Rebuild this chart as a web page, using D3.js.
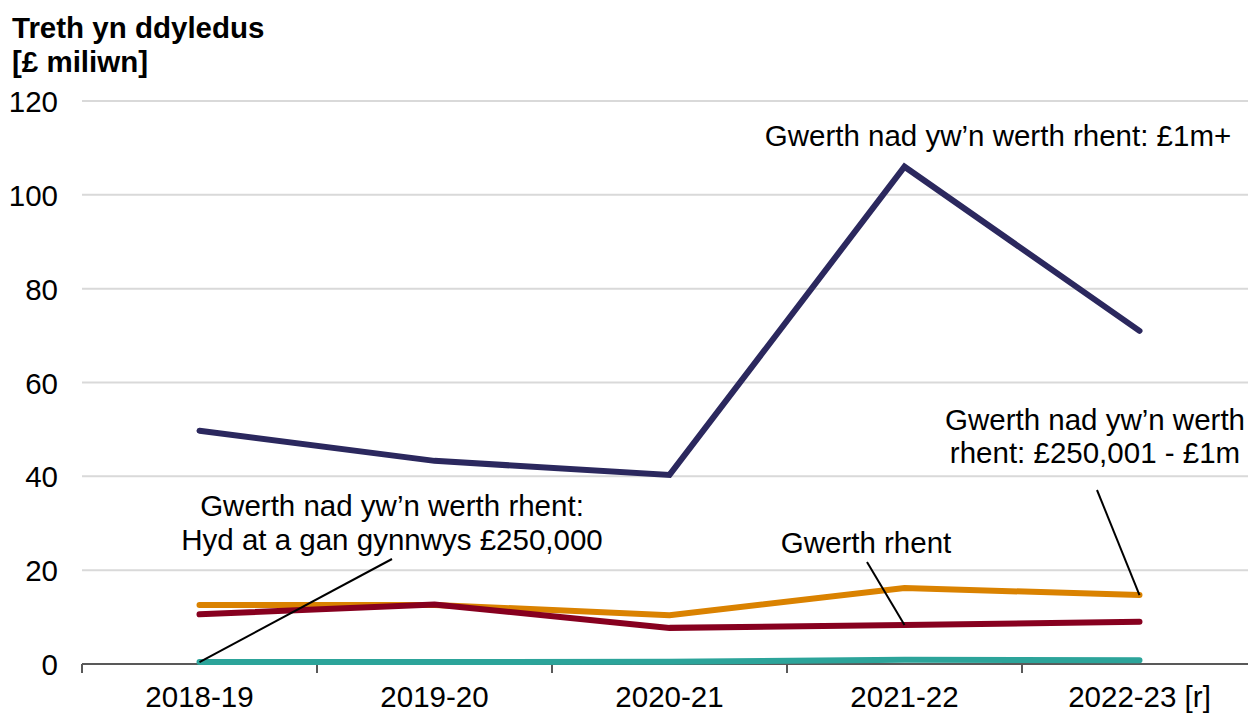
<!DOCTYPE html>
<html><head><meta charset="utf-8">
<script src="https://cdn.jsdelivr.net/npm/d3@7"></script>
<style>body{margin:0;background:#fff}text{font-family:"Liberation Sans",Arial,sans-serif}</style>
</head><body><svg id="c" width="1248" height="716"></svg>
<script>
const categories = ["2018-19","2019-20","2020-21","2021-22","2022-23 [r]"];
const seriesNames = ["Gwerth nad yw’n werth rhent: £1m+","Gwerth nad yw’n werth rhent: £250,001 - £1m","Gwerth rhent","Gwerth nad yw’n werth rhent: Hyd at a gan gynnwys £250,000"];
const valsOver1m = [49.7, 43.3, 40.3, 106.0, 71.0];
const vals250kTo1m = [12.6, 12.6, 10.4, 16.2, 14.7];
const valsRent = [10.6, 12.7, 7.7, 8.3, 9.0];
const valsUpTo250k = [0.4, 0.4, 0.5, 0.9, 0.8];
const yTicks = [0,20,40,60,80,100,120];
const colors = ["#2b285e","#da8200","#87001f","#2ca49a"];

const FS = 29.5;
const svg = d3.select("#c");
const x = d3.scaleBand().domain(categories).range([82,1257]);
const y = d3.scaleLinear().domain([0,120]).range([664,101]);

// gridlines
svg.append("g").selectAll("line").data(yTicks.filter(d=>d>0)).join("line")
  .attr("x1",82).attr("x2",1248).attr("y1",d=>y(d)).attr("y2",d=>y(d))
  .attr("stroke","#d9d9d9").attr("stroke-width",2);
// y labels
svg.append("g").selectAll("text").data(yTicks).join("text")
  .attr("x",58).attr("y",d=>y(d)+11).attr("text-anchor","end")
  .attr("font-size",FS).attr("fill","#000").text(d=>d);
// x axis
const xa = svg.append("g");
xa.append("line").attr("x1",82).attr("x2",1248).attr("y1",664).attr("y2",664).attr("stroke","#595959").attr("stroke-width",2);
xa.selectAll("line.t").data(categories).join("line").attr("class","t")
  .attr("x1",d=>x(d)).attr("x2",d=>x(d)).attr("y1",664).attr("y2",673)
  .attr("stroke","#595959").attr("stroke-width",2);
xa.selectAll("text").data(categories).join("text")
  .attr("x",d=>x(d)+x.bandwidth()/2).attr("y",707).attr("text-anchor","middle")
  .attr("font-size",FS).text(d=>d);

// title
svg.append("text").attr("x",12).attr("y",38).attr("font-size",FS).attr("font-weight","bold").text("Treth yn ddyledus");
svg.append("text").attr("x",12).attr("y",72).attr("font-size",FS).attr("font-weight","bold").text("[£ miliwn]");

const line = d3.line().x((d,i)=>x(categories[i])+x.bandwidth()/2).y(d=>y(d));
const series = [valsUpTo250k, vals250kTo1m, valsRent, valsOver1m];
const scol = [colors[3], colors[1], colors[2], colors[0]];
series.forEach((s,k)=>{
  svg.append("path").attr("d",line(s)).attr("fill","none").attr("stroke",scol[k])
    .attr("stroke-width",6).attr("stroke-linecap","round").attr("stroke-linejoin","miter");
});

const cx = i => x(categories[i])+x.bandwidth()/2;
// annotations
function label(lines, xx, yy, dy){
  const t = svg.append("text").attr("text-anchor","middle").attr("font-size",FS);
  lines.forEach((l,i)=>t.append("tspan").attr("x",xx).attr("y",yy+i*dy).text(l));
}
label(["Gwerth nad yw’n werth rhent: £1m+"], 998, 146, 0);
label(["Gwerth nad yw’n werth","rhent: £250,001 - £1m"], 1095, 430, 33);
label(["Gwerth rhent"], 866, 553, 0);
label(["Gwerth nad yw’n werth rhent:","Hyd at a gan gynnwys £250,000"], 392, 516, 34);

function leader(x1,y1,x2,y2){
  svg.append("line").attr("x1",x1).attr("y1",y1).attr("x2",x2).attr("y2",y2).attr("stroke","#000").attr("stroke-width",2);
}
leader(1097,490,cx(4),y(vals250kTo1m[4]));
leader(867,562,cx(3),y(valsRent[3]));
leader(392,559,cx(0),y(valsUpTo250k[0]));
</script></body></html>
